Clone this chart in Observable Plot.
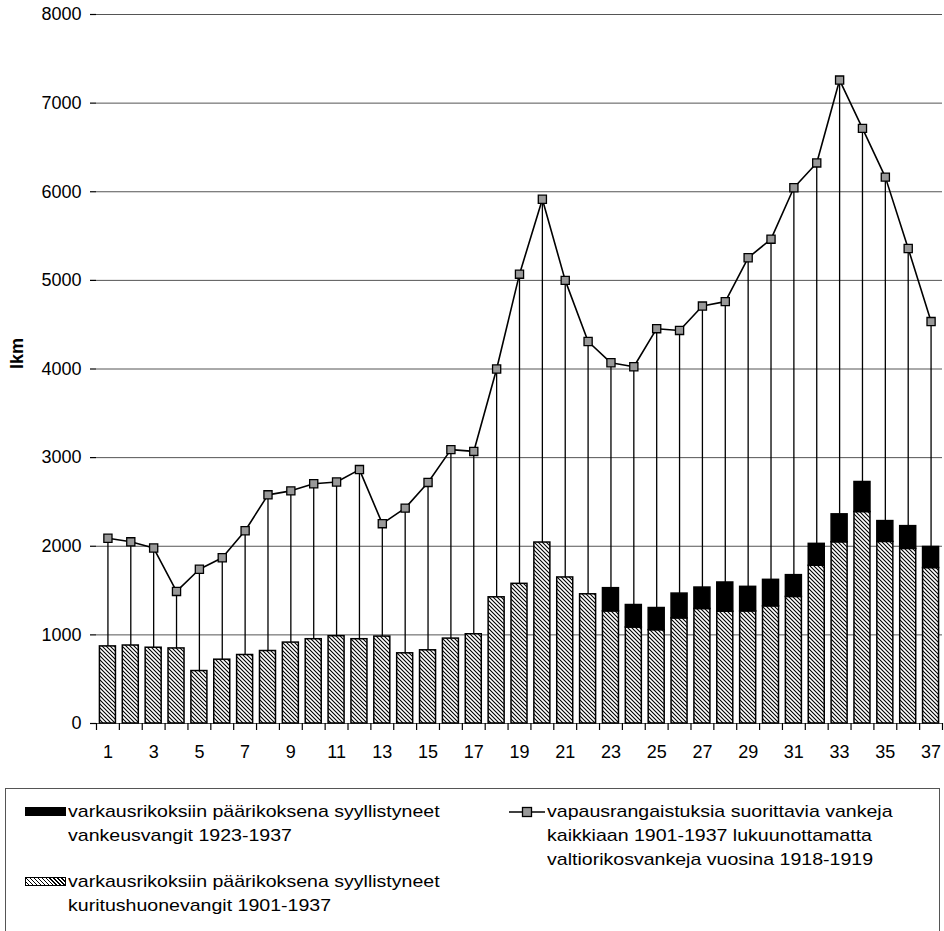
<!DOCTYPE html>
<html>
<head>
<meta charset="utf-8">
<script src="https://cdn.jsdelivr.net/npm/d3@7"></script>
<script src="https://cdn.jsdelivr.net/npm/@observablehq/plot@0.6"></script>
<style>
html, body { margin: 0; padding: 0; background: #fff; overflow: hidden; }
#wrap { position: relative; width: 944px; height: 931px; font-family: "Liberation Sans", Arial, sans-serif; color: #000; }
#chart { position: absolute; left: 0; top: 0; }
#legend { position: absolute; left: 5px; top: 788px; width: 935px; height: 160px; border: 1px solid #555; border-bottom: none; box-sizing: border-box; }
.item { position: absolute; font-size: 17px; line-height: 24px; white-space: nowrap; }
.txt { display: inline-block; transform: scaleX(1.15); transform-origin: 0 0; }
.sw { position: absolute; width: 41px; height: 9px; box-sizing: border-box; }
</style>
</head>
<body>
<div id="wrap">
  <div id="chart"></div>
  <div id="legend"></div>
</div>
<script>
// ---- data ----
const categories = [1,2,3,4,5,6,7,8,9,10,11,12,13,14,15,16,17,18,19,20,21,22,23,24,25,26,27,28,29,30,31,32,33,34,35,36,37];
// vapausrangaistuksia suorittavia vankeja kaikkiaan (line)
const allPrisoners = [2090,2050,1980,1490,1740,1870,2175,2580,2625,2705,2725,2865,2255,2430,2720,3090,3070,4000,5070,5915,5000,4310,4070,4025,4455,4435,4710,4760,5255,5465,6045,6325,7260,6715,6165,5360,4535];
// kuritushuonevangit (hatched bars)
const kuritushuone = [870,880,855,847,592,720,773,818,913,951,985,951,981,792,826,958,1007,1424,1576,2042,1648,1458,1265,1083,1053,1186,1292,1261,1265,1322,1428,1780,2045,2386,2049,1970,1754];
// vankeusvangit 1923-1937 (black bars, stacked on top)
const vankeus = [0,0,0,0,0,0,0,0,0,0,0,0,0,0,0,0,0,0,0,0,0,0,262,254,250,280,242,330,277,299,246,247,315,339,235,257,238];
const yTicks = [0,1000,2000,3000,4000,5000,6000,7000,8000];
const xTickLabels = ["1","3","5","7","9","11","13","15","17","19","21","23","25","27","29","31","33","35","37"];
const yLabel = "lkm";
const legendBlack = ["varkausrikoksiin päärikoksena syyllistyneet", "vankeusvangit 1923-1937"];
const legendHatch = ["varkausrikoksiin päärikoksena syyllistyneet", "kuritushuonevangit 1901-1937"];
const legendLine = ["vapausrangaistuksia suorittavia vankeja", "kaikkiaan 1901-1937 lukuunottamatta", "valtiorikosvankeja vuosina 1918-1919"];

const rows = categories.map((c, i) => ({
  cat: c,
  total: allPrisoners[i],
  kuri: kuritushuone[i],
  vank: vankeus[i],
  top: kuritushuone[i] + vankeus[i]
}));
const blackRows = rows.filter(d => d.vank > 0);

const W = 944, H = 775, mL = 96, mR = 2, mT = 14, mB = 52;
const step = (W - mL - mR) / categories.length;

const chart = Plot.plot({
  width: W, height: H,
  marginLeft: mL, marginRight: mR, marginTop: mT, marginBottom: mB,
  style: { fontFamily: '"Liberation Sans", Arial, sans-serif', fontSize: "18px", background: "#fff", color: "#000", overflow: "visible" },
  x: { type: "band", domain: categories, paddingInner: 0.3, paddingOuter: 0.15 },
  y: { domain: [0, 8000], nice: false },
  marks: [
    Plot.gridY(yTicks, { stroke: "#555", strokeOpacity: 1, strokeWidth: 1 }),
    Plot.barY(rows, { x: "cat", y1: 0, y2: "kuri", fill: "url(#hatch)", stroke: "#000", strokeWidth: 1.5 }),
    Plot.barY(blackRows, { x: "cat", y1: "kuri", y2: "top", fill: "#000", stroke: "#000", strokeWidth: 1.5 }),
    Plot.ruleX(rows, { x: "cat", y1: "top", y2: "total", stroke: "#000", strokeWidth: 1.3 }),
    Plot.line(rows, { x: "cat", y: "total", stroke: "#000", strokeWidth: 1.6 }),
    Plot.dot(rows, { x: "cat", y: "total", symbol: "square", r: 4.6, fill: "#999", stroke: "#000", strokeWidth: 1.3 }),
    // boundary ticks of the category axis
    Plot.ruleX(categories, { x: d => d, y1: 0, y2: 0, dx: -step / 2, insetBottom: -7, stroke: "#000", strokeWidth: 1.2 }),
    Plot.ruleX(categories.slice(-1), { x: d => d, y1: 0, y2: 0, dx: step / 2, insetBottom: -7, stroke: "#000", strokeWidth: 1.2 }),
    Plot.axisY({ ticks: yTicks, tickSize: 6, tickPadding: 9, fontSize: 18, label: null, line: true, strokeWidth: 1.2,
      tickFormat: d => String(d) }),
    Plot.axisX({ ticks: categories, tickSize: 0, tickPadding: 22, fontSize: 18, label: null, line: true,
      tickFormat: d => (xTickLabels.includes(String(d)) ? String(d) : "") }),
    Plot.text([yLabel], { text: d => d, frameAnchor: "left", dx: -79, rotate: -90, fontWeight: "bold", fontSize: 18 })
  ]
});

// hatch pattern definition
const defs = d3.select(chart).insert("defs", ":first-child");
const pat = defs.append("pattern").attr("id", "hatch").attr("patternUnits", "userSpaceOnUse").attr("width", 4).attr("height", 4);
pat.append("rect").attr("width", 4).attr("height", 4).attr("fill", "#fff");
pat.append("path").attr("d", "M-1,-1L5,5M-1,3L1,5M3,-1L5,1").attr("stroke", "#000").attr("stroke-width", 1.1);

document.getElementById("chart").appendChild(chart);

// ---- legend ----
const legend = document.getElementById("wrap");
function addSwatch(left, top, style) {
  const s = document.createElement("div");
  s.className = "sw";
  s.style.left = left + "px"; s.style.top = top + "px";
  Object.assign(s.style, style);
  legend.appendChild(s);
}
function addText(left, top, lines) {
  const t = document.createElement("div");
  t.className = "item";
  t.style.left = left + "px"; t.style.top = top + "px";
  lines.forEach((l, i) => {
    const sp = document.createElement("span");
    sp.className = "txt"; sp.textContent = l;
    t.appendChild(sp);
    if (i < lines.length - 1) t.appendChild(document.createElement("br"));
  });
  legend.appendChild(t);
}
addSwatch(25, 807, { background: "#000" });
addText(68, 800, legendBlack);
addSwatch(25, 877, { background: "repeating-linear-gradient(45deg, #fff 0px, #fff 1.6px, #000 1.6px, #000 2.8px)", border: "1px solid #000" });
addText(68, 870, legendHatch);

// line legend marker
const ns = "http://www.w3.org/2000/svg";
const ms = document.createElementNS(ns, "svg");
ms.setAttribute("width", 40); ms.setAttribute("height", 14);
ms.style.position = "absolute"; ms.style.left = "507px"; ms.style.top = "805px";
ms.innerHTML = '<line x1="2" y1="7" x2="38" y2="7" stroke="#000" stroke-width="1.6"/><rect x="15.5" y="2.5" width="9" height="9" fill="#999" stroke="#000" stroke-width="1.3"/>';
legend.appendChild(ms);
addText(547, 800, legendLine);
</script>
</body>
</html>
